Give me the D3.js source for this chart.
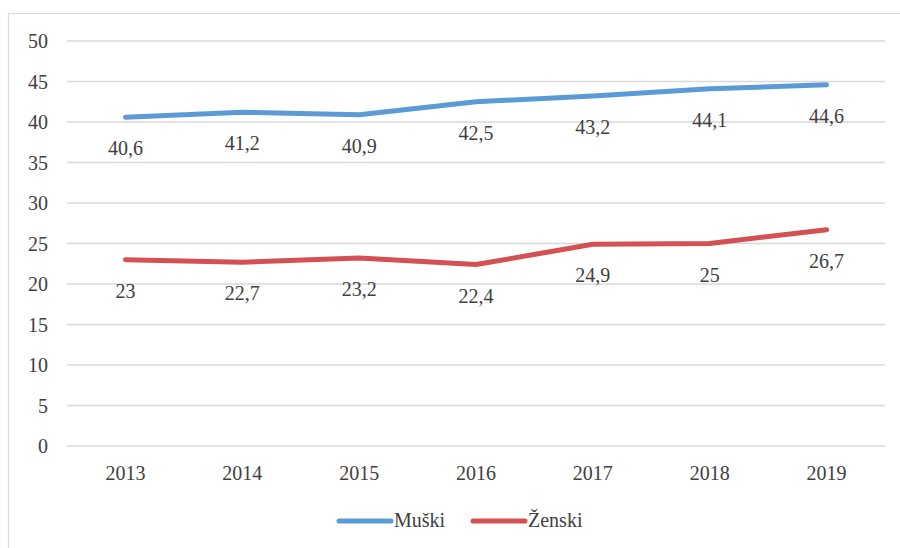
<!DOCTYPE html>
<html>
<head>
<meta charset="utf-8">
<script src="https://cdn.jsdelivr.net/npm/d3@7"></script>
<style>
  body { margin: 0; background: #fff; }
</style>
</head>
<body>
<div id="chart"></div>
<script>
const years = ['2013', '2014', '2015', '2016', '2017', '2018', '2019'];
const muski = [40.6, 41.2, 40.9, 42.5, 43.2, 44.1, 44.6];
const zenski = [23, 22.7, 23.2, 22.4, 24.9, 25, 26.7];
const yTicks = [0, 5, 10, 15, 20, 25, 30, 35, 40, 45, 50];
const seriesNames = ['Muški', 'Ženski'];
const seriesColors = ['#5B9BD5', '#D35152'];

const width = 900, height = 548;
const margin = { top: 41, right: 15, bottom: 102, left: 67 };
const font = "'Liberation Serif', 'Times New Roman', Times, serif";
const textColor = '#404040';

const svg = d3.select('#chart').append('svg')
  .attr('width', width)
  .attr('height', height)
  .attr('font-family', font);

// outer chart border
svg.append('rect')
  .attr('x', 8.5).attr('y', 13.5)
  .attr('width', width + 10).attr('height', height + 10)
  .attr('fill', 'none')
  .attr('stroke', '#D9D9D9')
  .attr('stroke-width', 1.2);

const x = d3.scaleBand()
  .domain(years)
  .range([margin.left, width - margin.right]);

const y = d3.scaleLinear()
  .domain([0, 50])
  .range([height - margin.bottom, margin.top]);

// gridlines
svg.append('g')
  .selectAll('line')
  .data(yTicks)
  .enter()
  .append('line')
  .attr('x1', margin.left)
  .attr('x2', width - margin.right)
  .attr('y1', d => y(d))
  .attr('y2', d => y(d))
  .attr('stroke', '#D9D9D9')
  .attr('stroke-width', 1.3);

// y labels
svg.append('g')
  .selectAll('text')
  .data(yTicks)
  .enter()
  .append('text')
  .attr('x', 48)
  .attr('y', d => y(d))
  .attr('dy', '0.35em')
  .attr('text-anchor', 'end')
  .attr('font-size', 20)
  .attr('fill', textColor)
  .text(d => d);

// x labels
svg.append('g')
  .selectAll('text')
  .data(years)
  .enter()
  .append('text')
  .attr('x', d => x(d) + x.bandwidth() / 2)
  .attr('y', 480)
  .attr('text-anchor', 'middle')
  .attr('font-size', 20)
  .attr('fill', textColor)
  .text(d => d);

const line = d3.line()
  .x((d, i) => x(years[i]) + x.bandwidth() / 2)
  .y(d => y(d));

const fmt = v => String(v).replace('.', ',');

[muski, zenski].forEach((vals, si) => {
  svg.append('path')
    .datum(vals)
    .attr('d', line)
    .attr('fill', 'none')
    .attr('stroke', seriesColors[si])
    .attr('stroke-width', 5)
    .attr('stroke-linecap', 'round')
    .attr('stroke-linejoin', 'round');

  svg.append('g')
    .selectAll('text')
    .data(vals)
    .enter()
    .append('text')
    .attr('x', (d, i) => x(years[i]) + x.bandwidth() / 2)
    .attr('y', d => y(d) + 38)
    .attr('text-anchor', 'middle')
    .attr('font-size', 20)
    .attr('fill', textColor)
    .text(d => fmt(d));
});

// legend
const legend = svg.append('g');
const legendX = [339, 473];
seriesNames.forEach((name, i) => {
  legend.append('line')
    .attr('x1', legendX[i]).attr('x2', legendX[i] + 52)
    .attr('y1', 521).attr('y2', 521)
    .attr('stroke', seriesColors[i])
    .attr('stroke-width', 5)
    .attr('stroke-linecap', 'round');
  legend.append('text')
    .attr('x', legendX[i] + 55)
    .attr('y', 527)
    .attr('font-size', 20)
    .attr('fill', textColor)
    .text(name);
});
</script>
</body>
</html>
